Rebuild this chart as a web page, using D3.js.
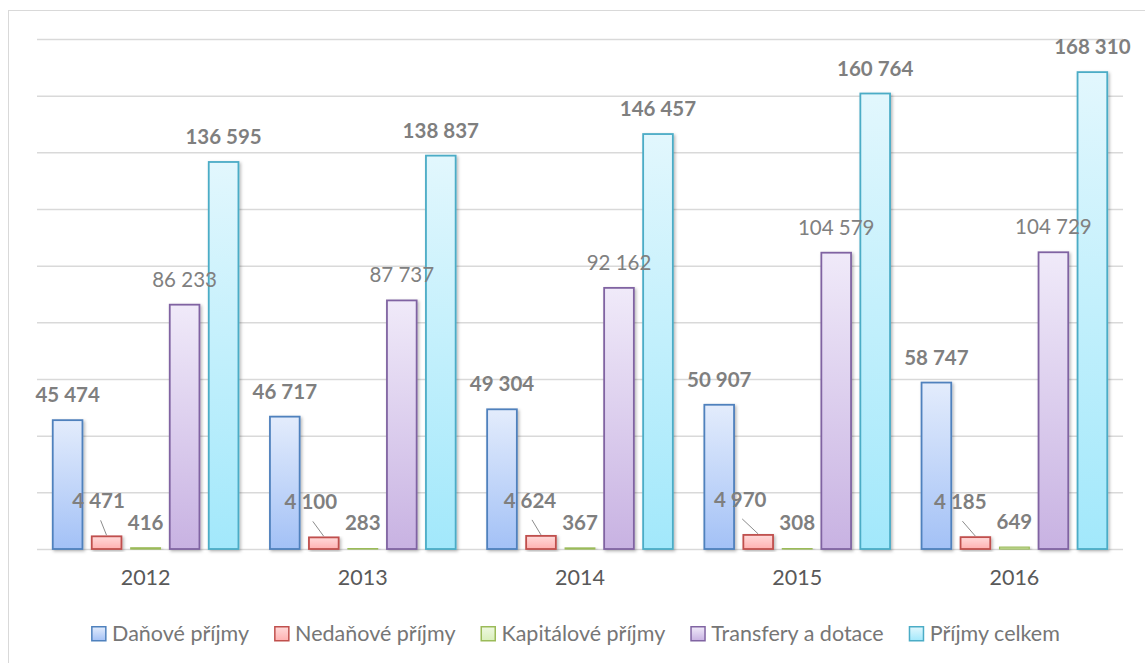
<!DOCTYPE html>
<html>
<head>
<meta charset="utf-8">
<script src="https://cdn.jsdelivr.net/npm/d3@7"></script>
<style>
  html, body { margin: 0; padding: 0; background: #fff; }
  svg { display: block; font-family: Lato, "Open Sans", sans-serif; }
</style>
</head>
<body>
<svg id="chart" width="1145" height="663"></svg>
<script>
// Příjmy rozpočtu podle druhu, 2012–2016 (tis. Kč)
const years = ["2012", "2013", "2014", "2015", "2016"];
const seriesNames = ["Daňové příjmy", "Nedaňové příjmy", "Kapitálové příjmy", "Transfery a dotace", "Příjmy celkem"];
const danove     = [45474, 46717, 49304, 50907, 58747];
const nedanove   = [4471, 4100, 4624, 4970, 4185];
const kapitalove = [416, 283, 367, 308, 649];
const transfery  = [86233, 87737, 92162, 104579, 104729];
const celkem     = [136595, 138837, 146457, 160764, 168310];
const yTicks     = [0, 20000, 40000, 60000, 80000, 100000, 120000, 140000, 160000, 180000];

const values = [danove, nedanove, kapitalove, transfery, celkem];

// Appearance of each series: outline, gradient top/bottom, label weight
const styles = [
  { stroke: "#4f81bd", top: "#e3ecfc", bottom: "#a3c1f6", weight: "bold",   color: "#7f7f7f" },
  { stroke: "#c0504d", top: "#ffdada", bottom: "#ffb1b1", weight: "bold",   color: "#7f7f7f" },
  { stroke: "#9bbb59", top: "#eef8e0", bottom: "#d9efbc", weight: "bold",   color: "#7f7f7f" },
  { stroke: "#8064a2", top: "#f0eaf9", bottom: "#c8b2e2", weight: "normal", color: "#808080" },
  { stroke: "#4bacc6", top: "#e2f7fd", bottom: "#a2e8fb", weight: "bold",   color: "#7f7f7f" }
];
// Horizontal shift of the small "Nedaňové příjmy" labels, which sit beside their bars on a leader line
const leaderShift = [-8, -13, -11, -18, -15];

const svg = d3.select("#chart");
const plot = { left: 37, right: 1123, top: 39, bottom: 549 };

// Outer frame
svg.append("rect")
  .attr("x", 8.5).attr("y", 10.5).attr("width", 1150).attr("height", 670)
  .attr("fill", "#fff").attr("stroke", "#d9d9d9").attr("stroke-width", 1);

const defs = svg.append("defs");
styles.forEach((s, i) => {
  const g = defs.append("linearGradient").attr("id", "grad" + i)
    .attr("x1", 0).attr("y1", 0).attr("x2", 0).attr("y2", 1);
  g.append("stop").attr("offset", "0%").attr("stop-color", s.top);
  g.append("stop").attr("offset", "100%").attr("stop-color", s.bottom);
});
const shadow = defs.append("filter").attr("id", "shadow")
  .attr("x", "-30%").attr("y", "-10%").attr("width", "160%").attr("height", "130%");
shadow.append("feDropShadow").attr("dx", 1.5).attr("dy", 1.5).attr("stdDeviation", 1.6)
  .attr("flood-color", "#000").attr("flood-opacity", 0.28);

const x0 = d3.scaleBand().domain(years).range([plot.left, plot.right]).paddingInner(0).paddingOuter(0);
const x1 = d3.scaleBand().domain(d3.range(seriesNames.length))
  .range([15, x0.bandwidth() - 15]).paddingInner(0.2).paddingOuter(0);
const y = d3.scaleLinear().domain([0, 180000]).range([plot.bottom, plot.top]);

// Gridlines
const grid = svg.append("g")
  .attr("transform", `translate(${plot.left},0)`)
  .call(d3.axisLeft(y).tickValues(yTicks).tickSize(-(plot.right - plot.left)).tickFormat(""));
grid.select(".domain").remove();
grid.selectAll(".tick line").attr("stroke", "#d9d9d9").attr("stroke-width", 1.5);

// Bars
const groups = svg.append("g").selectAll("g").data(years).join("g")
  .attr("transform", d => `translate(${x0(d)},0)`);

groups.each(function (yr, yi) {
  const g = d3.select(this);
  values.forEach((arr, si) => {
    const v = arr[yi];
    const bx = x1(si), bw = x1.bandwidth();
    g.append("rect")
      .attr("x", bx + 0.75).attr("y", y(v))
      .attr("width", bw - 1.5).attr("height", Math.max(0, y(0) - y(v)))
      .attr("fill", `url(#grad${si})`)
      .attr("stroke", styles[si].stroke).attr("stroke-width", si === 2 ? 1.2 : 1.8)
      .attr("filter", "url(#shadow)");
  });
});

// Value labels
const fmt = v => d3.format(",")(v).replace(/,/g, " ");
groups.each(function (yr, yi) {
  const g = d3.select(this);
  values.forEach((arr, si) => {
    const v = arr[yi];
    const cx = x1(si) + x1.bandwidth() / 2;
    let lx = cx, ly = y(v) - 18;
    if (si === 1) {
      lx = cx + leaderShift[yi];
      ly = y(v) - 28;
      g.append("line")
        .attr("x1", lx + 2).attr("y1", ly + 12)
        .attr("x2", cx).attr("y2", y(v) - 1)
        .attr("stroke", "#8c8c8c").attr("stroke-width", 1);
    }
    g.append("text")
      .attr("x", lx).attr("y", ly)
      .attr("text-anchor", "middle")
      .attr("font-size", 20.5)
      .attr("font-weight", styles[si].weight)
      .attr("fill", styles[si].color)
      .text(fmt(v));
  });
});

// Category axis labels
const xAxis = svg.append("g")
  .attr("transform", `translate(0,${plot.bottom})`)
  .call(d3.axisBottom(x0).tickSize(0).tickPadding(21));
xAxis.select(".domain").remove();
xAxis.selectAll("text")
  .attr("font-family", "Lato, sans-serif")
  .attr("font-size", 21.5).attr("fill", "#595959");

// Legend
const legend = svg.append("g");
const items = legend.selectAll("g").data(seriesNames).join("g");
items.append("rect")
  .attr("x", 0.75).attr("y", -14.25).attr("width", 14).attr("height", 14)
  .attr("fill", (d, i) => `url(#grad${i})`)
  .attr("stroke", (d, i) => styles[i].stroke).attr("stroke-width", 1.5);
items.append("text")
  .attr("x", 21).attr("y", 0)
  .attr("font-size", 21.5).attr("fill", "#767676")
  .text(d => d);
let cursor = 0;
const gap = 25;
items.each(function () {
  const t = d3.select(this).select("text").node().getComputedTextLength();
  d3.select(this).attr("transform", `translate(${cursor},0)`);
  cursor += 21 + t + gap;
});
const total = cursor - gap;
legend.attr("transform", `translate(${575.5 - total / 2},641)`);
</script>
</body>
</html>
